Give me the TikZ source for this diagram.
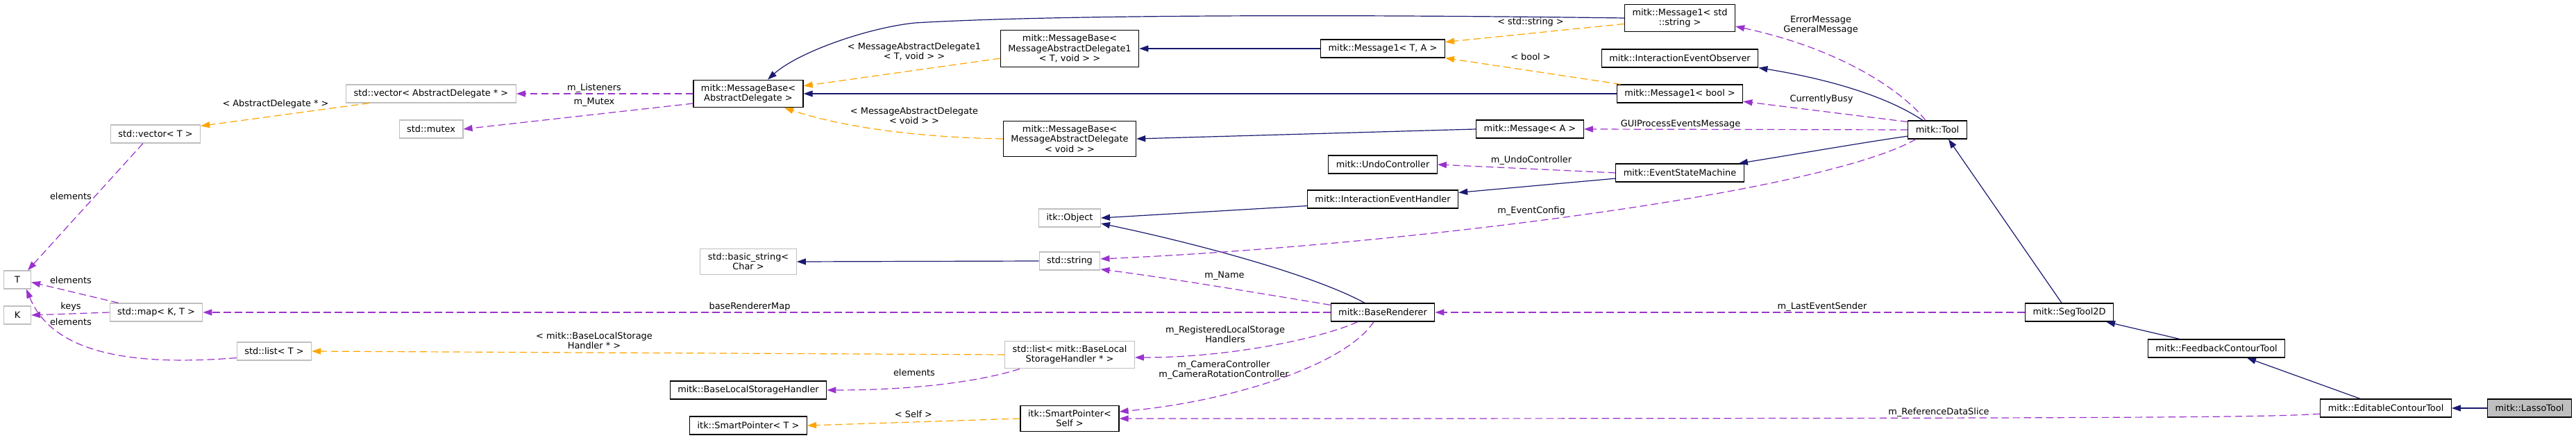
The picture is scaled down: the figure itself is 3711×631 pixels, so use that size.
\documentclass[tikz,border=0pt]{standalone}
\usepackage{fontspec}
\setmainfont{DejaVu Sans}
\usetikzlibrary{arrows.meta}

\definecolor{inhblue}{HTML}{191970}
\definecolor{usepurple}{HTML}{9A32CD}
\definecolor{tmplorange}{HTML}{FFA500}
\definecolor{undocgray}{HTML}{BFBFBF}
\definecolor{curgray}{HTML}{BFBFBF}

\tikzset{
  cls/.style={draw=black, line width=1.2pt, rectangle, fill=white, align=center,
    inner xsep=11pt, inner ysep=6.5pt, minimum height=26pt, minimum width=39pt,
    font=\fontsize{12.9}{14.2}\selectfont},
  ext/.style={cls, draw=undocgray},
  cur/.style={cls, fill=curgray},
  lbl/.style={align=center, inner sep=0pt, font=\fontsize{12.9}{14.2}\selectfont},
  inh/.style={color=inhblue, line width=1.2pt, -{Triangle[length=13pt,width=9pt]}},
  use/.style={color=usepurple, line width=1.2pt, dash pattern=on 10.5pt off 5.5pt,
    -{Triangle[length=13pt,width=9pt]}},
  tmpl/.style={use, color=tmplorange},
}

\begin{document}
\begin{tikzpicture}[x=1pt, y=-1pt]
  \fill[white] (0,0) rectangle (3711,631);
  \useasboundingbox (0,0) rectangle (3711,631);

  % classes, left to right
  \node[ext] (vecT) at (224,193) {std::vector< T >};
  \node[ext] (vecAD) at (621,135) {std::vector< AbstractDelegate * >};
  \node[ext] (mutex) at (621,186) {std::mutex};
  \node[ext] (T) at (25,403) {T};
  \node[ext] (K) at (25,454) {K};
  \node[ext] (mapKT) at (225,450) {std::map< K, T >};
  \node[ext] (listT) at (395,506) {std::list< T >};
  \node[cls] (mbAD) at (1078,135) {mitk::MessageBase<\\AbstractDelegate >};
  \node[ext] (bstr) at (1078,377) {std::basic\_string<\\Char >};
  \node[cls] (blsh) at (1078,562) {mitk::BaseLocalStorageHandler};
  \node[cls] (spT) at (1078,613) {itk::SmartPointer< T >};
  \node[cls] (mbAD1) at (1541,70) {mitk::MessageBase<\\MessageAbstractDelegate1\\< T, void > >};
  \node[cls] (mbADv) at (1541,200) {mitk::MessageBase<\\MessageAbstractDelegate\\< void > >};
  \node[ext] (itkobj) at (1541,314) {itk::Object};
  \node[ext] (str) at (1541,376) {std::string};
  \node[ext] (listBLSH) at (1541,511) {std::list< mitk::BaseLocal\\StorageHandler * >};
  \node[cls] (spSelf) at (1541,603) {itk::SmartPointer<\\Self >};
  \node[cls] (msg1TA) at (1992,70) {mitk::Message1< T, A >};
  \node[cls] (msg1str) at (2420,26) {mitk::Message1< std\\::string >};
  \node[cls] (ieo) at (2420,84) {mitk::InteractionEventObserver};
  \node[cls] (msg1bool) at (2420,135) {mitk::Message1< bool >};
  \node[cls] (msgA) at (2204,186) {mitk::Message< A >};
  \node[cls] (undo) at (1992,237) {mitk::UndoController};
  \node[cls] (esm) at (2420,249) {mitk::EventStateMachine};
  \node[cls] (ieh) at (1992,287) {mitk::InteractionEventHandler};
  \node[cls] (brend) at (1992,450) {mitk::BaseRenderer};
  \node[cls] (tool) at (2791,187) {mitk::Tool};
  \node[cls] (seg) at (2981,450) {mitk::SegTool2D};
  \node[cls] (fct) at (3193,502) {mitk::FeedbackContourTool};
  \node[cls] (ect) at (3437,588) {mitk::EditableContourTool};
  \node[cur] (lasso) at (3644,588) {mitk::LassoTool};

  % inheritance
  \draw[inh] (msg1str.west) .. controls (1900,20) and (1500,22) .. (1318,33)
    .. controls (1250,40) and (1150,75) .. ([xshift=28pt]mbAD.north);
  \draw[inh] (msg1TA.west) -- (mbAD1.east);
  \draw[inh] (msg1bool.west) -- (mbAD.east);
  \draw[inh] (msgA.west) -- (mbADv.east);
  \draw[inh] ([xshift=-21pt]tool.north) .. controls (2720,140) and (2640,115) .. (ieo.south east);
  \draw[inh] (tool.192) .. controls (2680,206) and (2600,220) .. ([xshift=-8pt]esm.north east);
  \draw[inh] (esm.185) -- (ieh.5);
  \draw[inh] (ieh.185) -- (itkobj.east);
  \draw[inh] ([xshift=-26pt]brend.north) .. controls (1890,395) and (1720,350) .. (itkobj.350);
  \draw[inh] (str.west) -- (bstr.east);
  \draw[inh] ([xshift=-11pt]seg.north) -- ([xshift=16pt]tool.south);
  \draw[inh] ([xshift=-53pt]fct.north) -- ([xshift=-11pt]seg.south east);
  \draw[inh] ([xshift=-37pt]ect.north) -- ([xshift=44pt]fct.south);
  \draw[inh] (lasso.west) -- (ect.east);

  % members
  \draw[use] ([xshift=-17pt]tool.north) .. controls (2740,130) and (2650,70) .. ([yshift=-12pt]msg1str.east);
  \draw[use] (tool.165) -- (msg1bool.353);
  \draw[use] (tool.west) -- (msgA.east);
  \draw[use] ([xshift=-31pt]tool.south) .. controls (2620,280) and (2000,355) .. ([yshift=3pt]str.east);
  \draw[use] (esm.west) -- (undo.east);
  \draw[use] (brend.172) .. controls (1800,420) and (1680,400) .. (str.345);
  \draw[use] ([xshift=-36pt]brend.south) .. controls (1910,485) and (1780,515) .. ([yshift=-4pt]listBLSH.east);
  \draw[use] ([xshift=-13pt]brend.south) .. controls (1935,530) and (1760,580) .. (spSelf.8);
  \draw[use] (seg.west) -- (brend.east);
  \draw[use] (ect.185) .. controls (3260,601) and (3150,603) .. (spSelf.east);
  \draw[use] (brend.west) -- (mapKT.east);
  \draw[use] ([xshift=22pt]listBLSH.south west) .. controls (1400,553) and (1300,562) .. (blsh.east);
  \draw[use] (mbAD.west) -- (vecAD.east);
  \draw[use] (mbAD.190) -- (mutex.east);
  \draw[use] ([xshift=-18pt]vecT.south) -- ([xshift=15pt]T.north);
  \draw[use] ([xshift=13pt]mapKT.north west) -- (T.350);
  \draw[use] (mapKT.west) -- (K.east);
  \draw[use] (listT.190) .. controls (220,525) and (80,520) .. ([xshift=13pt]T.south);

  % template instances
  \draw[tmpl] ([xshift=34pt]vecAD.south west) -- (vecT.10);
  \draw[tmpl] (listBLSH.west) -- (listT.east);
  \draw[tmpl] (spSelf.west) -- (spT.east);
  \draw[tmpl] (mbAD1.188) -- (mbAD.8);
  \draw[tmpl] (mbADv.west) .. controls (1330,198) and (1220,185) .. ([xshift=52pt]mbAD.south);
  \draw[tmpl] (msg1str.186) -- (msg1TA.6);
  \draw[tmpl] ([xshift=6pt]msg1bool.north west) -- (msg1TA.south east);

  % edge labels
  \node[lbl] (lAD) at (397,150) {< AbstractDelegate * >};
  \node[lbl] (lvecT) at (102,283) {elements};
  \node[lbl] (lmapT) at (102,404) {elements};
  \node[lbl] (lkeys) at (102,442) {keys};
  \node[lbl] (llistT) at (102,464) {elements};
  \node[lbl] (llisteners) at (856,127) {m\_Listeners};
  \node[lbl] (lmutex) at (856,147) {m\_Mutex};
  \node[lbl] (lbrmap) at (1080,442) {baseRendererMap};
  \node[lbl] (lblsh) at (856,491) {< mitk::BaseLocalStorage\\Handler * >};
  \node[lbl] (lAD1) at (1317,74) {< MessageAbstractDelegate1\\< T, void > >};
  \node[lbl] (lADv) at (1317,167) {< MessageAbstractDelegate\\< void > >};
  \node[lbl] (lname) at (1764,397) {m\_Name};
  \node[lbl] (lreg) at (1765,482) {m\_RegisteredLocalStorage\\Handlers};
  \node[lbl] (lelem) at (1317,537) {elements};
  \node[lbl] (lcam) at (1763,533) {m\_CameraController\\m\_CameraRotationController};
  \node[lbl] (lself) at (1316,597) {< Self >};
  \node[lbl] (lstdstr) at (2205,32) {< std::string >};
  \node[lbl] (lbool) at (2205,82) {< bool >};
  \node[lbl] (lundo) at (2206,231) {m\_UndoController};
  \node[lbl] (lcfg) at (2206,304) {m\_EventConfig};
  \node[lbl] (lgui) at (2421,179) {GUIProcessEventsMessage};
  \node[lbl] (lerr) at (2623,36) {ErrorMessage\\GeneralMessage};
  \node[lbl] (lbusy) at (2624,143) {CurrentlyBusy};
  \node[lbl] (lsender) at (2625,442) {m\_LastEventSender};
  \node[lbl] (lslice) at (2793,594) {m\_ReferenceDataSlice};
\end{tikzpicture}
\end{document}
